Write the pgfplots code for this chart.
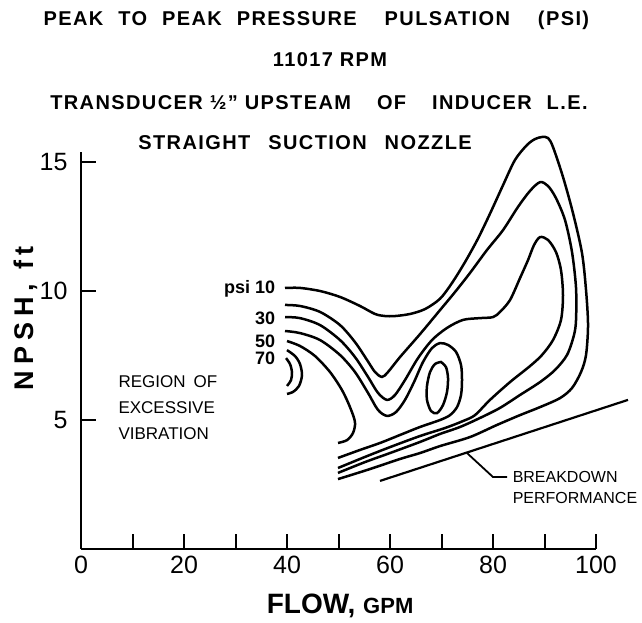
\documentclass[border=0pt]{standalone}
\usepackage{fontspec}
\setmainfont{Liberation Sans}
\usepackage{pgfplots}
\pgfplotsset{compat=1.18}
\newcommand{\ttl}{\fontsize{20}{24}\selectfont\bfseries\addfontfeatures{LetterSpace=7}}
\begin{document}
\begin{tikzpicture}
\begin{axis}[
  scale only axis, width=515pt, height=397.32pt,
  xmin=0, xmax=100, ymin=0, ymax=15.4,
  axis lines=left, axis line style={-, line width=2.6pt},
  clip=false,
  xtick={0,10,...,100}, xticklabels={0,,20,,40,,60,,80,,100},
  ytick={5,10,15}, yticklabels={5,10,15},
  tick align=inside, major tick length=15pt,
  tick style={line width=2pt, black},
  every tick label/.append style={font=\fontsize{25}{28}\selectfont},
  yticklabel style={xshift=-10pt},
  xticklabel style={yshift=-3pt},
  /pgf/number format/assume math mode=true,
  ct/.style={black, line width=2.5pt, smooth, no marks, solid},
]
% 10 psi
\addplot[ct] coordinates {(39.61,10.12)(42.52,10.12)(46.41,10.00)(50.29,9.77)(54.17,9.42)(57.09,9.11)(59.03,9.03)(60.97,9.03)(63.88,9.11)(66.80,9.30)(69.71,9.70)(72.00,10.30)(74.50,11.10)(77.00,12.00)(79.42,13.00)(81.94,14.10)(84.27,15.08)(86.60,15.66)(88.16,15.89)(89.51,15.97)(90.68,15.93)(91.65,15.58)(93.59,14.42)(95.53,13.02)(97.28,11.47)(98.06,10.04)(98.45,8.68)(98.06,7.52)(97.09,6.86)(95.34,6.24)(93.01,5.85)(89.13,5.50)(85.24,5.19)(80.78,4.81)(75.53,4.34)(69.71,3.99)(65.83,3.72)(61.94,3.49)(56.12,3.10)(49.90,2.71)};
% 20 psi
\addplot[ct] coordinates {(39.61,9.46)(42.52,9.42)(46.41,9.19)(50.29,8.68)(53.20,8.02)(55.53,7.33)(57.09,6.86)(58.45,6.67)(59.61,6.86)(61.94,7.44)(65.83,8.33)(69.71,9.26)(72.62,9.96)(75.53,10.70)(78.83,11.59)(81.94,12.36)(84.85,13.26)(87.18,13.88)(89.13,14.22)(90.68,14.07)(92.23,13.60)(93.98,12.75)(95.34,11.51)(96.12,10.12)(96.12,8.88)(95.72,8.29)(94.37,7.52)(92.04,6.94)(89.13,6.47)(85.24,5.97)(81.36,5.47)(77.48,5.08)(73.59,4.73)(69.71,4.46)(65.83,4.15)(60.00,3.72)(55.15,3.37)(49.90,2.95)};
% 30 psi
\addplot[ct] coordinates {(39.61,8.99)(42.52,8.95)(46.41,8.68)(50.29,8.10)(53.20,7.44)(55.73,6.67)(57.67,6.05)(59.42,5.78)(60.97,5.97)(62.91,6.55)(65.44,7.40)(68.16,8.10)(71.07,8.57)(74.17,8.88)(77.48,8.95)(80.00,8.99)(81.36,9.19)(83.30,9.65)(85.24,10.50)(86.80,11.20)(87.96,11.78)(89.13,12.09)(90.68,11.98)(92.23,11.51)(93.20,10.81)(93.59,9.84)(93.20,8.88)(91.65,8.10)(89.51,7.52)(87.18,7.09)(83.30,6.47)(79.42,5.78)(76.50,5.19)(74.17,4.96)(70.68,4.69)(65.83,4.38)(60.00,3.95)(55.15,3.57)(49.90,3.14)};
% 40 psi
\addplot[ct] coordinates {(39.61,8.45)(42.52,8.37)(46.41,8.10)(50.29,7.52)(53.20,6.86)(55.73,6.05)(57.67,5.39)(59.42,5.16)(61.17,5.31)(62.91,5.78)(64.66,6.47)(66.41,7.25)(68.16,7.79)(69.71,7.98)(71.26,7.91)(72.82,7.64)(73.79,7.13)(73.98,6.55)(73.79,5.97)(73.01,5.50)(71.65,5.19)(69.71,5.00)(65.83,4.73)(61.94,4.42)(58.06,4.11)(54.17,3.84)(49.90,3.53)};
% 50 psi
\addplot[ct] coordinates {(40.00,8.06)(42.52,7.87)(45.44,7.48)(48.35,6.86)(50.68,6.16)(52.23,5.50)(53.20,4.92)(52.82,4.50)(51.65,4.22)(49.90,4.11)};
% island
\addplot[ct] coordinates {(69.90,7.25)(70.87,7.05)(71.26,6.63)(71.07,6.09)(70.29,5.58)(69.13,5.27)(67.96,5.35)(67.18,5.78)(67.18,6.32)(67.77,6.86)(68.74,7.17)(69.90,7.25)} -- cycle;
% 60, 70 arcs
\addplot[ct] coordinates {(40.00,7.71)(41.55,7.48)(42.52,7.17)(42.91,6.74)(42.33,6.32)(41.17,6.09)(40.00,6.01)};
\addplot[ct] coordinates {(39.81,7.40)(40.58,7.17)(40.97,6.86)(40.78,6.55)(40.00,6.32)};
% breakdown line and leader
\addplot[black, solid, no marks, sharp plot, line width=2.2pt] coordinates {(58.06,2.64)(106.21,5.78)};
\addplot[black, solid, no marks, sharp plot, line width=1.8pt] coordinates {(74.95,3.72)(80.00,2.79)(82.72,2.79)};
% texts
\node[anchor=east, font=\fontsize{18}{20}\selectfont\bfseries] at (axis cs:38.4,10.08) {psi 10};
\node[anchor=east, font=\fontsize{18}{20}\selectfont\bfseries] at (axis cs:38.4,8.95) {30};
\node[anchor=east, font=\fontsize{18}{20}\selectfont\bfseries] at (axis cs:38.4,8.06) {50};
\node[anchor=east, font=\fontsize{18}{20}\selectfont\bfseries] at (axis cs:38.4,7.40) {70};
\node[anchor=west, align=left, font=\fontsize{17}{26}\selectfont] at (axis cs:6.6,5.47) {REGION\hspace{8pt}OF\\EXCESSIVE\\VIBRATION};
\node[anchor=west, align=left, inner sep=1pt, font=\fontsize{16}{21}\selectfont] at (axis cs:83.6,2.39) {BREAKDOWN\\PERFORMANCE};
\node[font=\ttl] at (axis cs:45.7,20.5) {PEAK\hspace{15pt}TO\hspace{15pt}PEAK\hspace{15pt}PRESSURE\hspace{28pt}PULSATION\hspace{28pt}(PSI)};
\node[font=\ttl] at (axis cs:48.35,18.95) {11017 RPM};
\node[font=\ttl] at (axis cs:46.2,17.29) {TRANSDUCER ½" UPSTEAM\hspace{26pt}OF\hspace{26pt}INDUCER\hspace{15pt}L.E.};
\node[font=\ttl] at (axis cs:43.5,15.74) {STRAIGHT\hspace{18pt}SUCTION\hspace{18pt}NOZZLE};
\node[font=\fontsize{28}{30}\selectfont\bfseries] at (axis cs:50.3,-2.2) {FLOW, {\fontsize{22}{24}\selectfont GPM}};
\node[rotate=90, font=\fontsize{27}{30}\selectfont\bfseries\addfontfeatures{LetterSpace=22}] at (axis cs:-10.7,8.95) {NPSH,\hspace{14pt}ft};
\coordinate (BL) at (axis cs:-15.73,-2.83);
\coordinate (TR) at (axis cs:108.93,21.28);
\end{axis}
\pgfresetboundingbox
\useasboundingbox (BL) rectangle (TR);
\end{tikzpicture}
\end{document}
